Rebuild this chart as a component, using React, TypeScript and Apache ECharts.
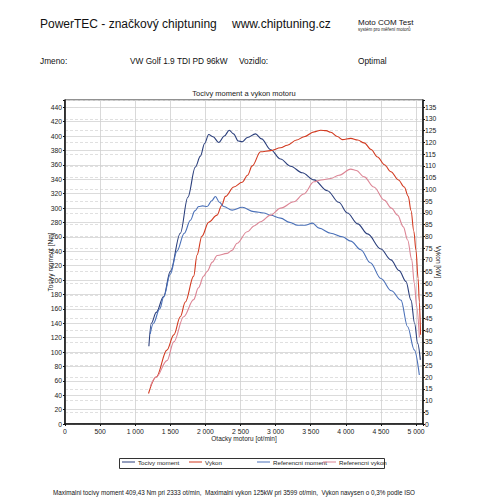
import React, { useEffect, useRef } from "react";
import * as echarts from "echarts";

// rpm vs torque [Nm]
const tunedTorque: [number, number][] = [
  [1195, 108], [1230, 140], [1300, 155], [1405, 177], [1500, 212], [1643, 265], [1750, 315],
  [1857, 357], [1929, 372], [1990, 390], [2047, 402], [2110, 399], [2190, 391], [2270, 400],
  [2340, 408], [2400, 403], [2470, 393], [2524, 392], [2600, 398], [2714, 403], [2800, 396],
  [2929, 381], [3071, 368], [3214, 358], [3380, 349], [3547, 339], [3738, 324], [3900, 308],
  [4024, 293], [4170, 278], [4310, 264], [4500, 243], [4643, 228], [4760, 213], [4857, 198],
  [4929, 172], [4980, 140], [5024, 112], [5062, 89],
];
const refTorque: [number, number][] = [
  [1214, 125], [1260, 140], [1350, 160], [1405, 176], [1500, 208], [1595, 240], [1700, 265],
  [1786, 283], [1850, 296], [1905, 302], [1960, 303], [2024, 302], [2090, 310], [2143, 316],
  [2200, 308], [2262, 302], [2381, 297], [2524, 301], [2690, 295], [2833, 293], [2929, 290],
  [3071, 286], [3200, 280], [3310, 276], [3420, 276], [3524, 279], [3620, 272], [3786, 265],
  [3950, 260], [4071, 254], [4214, 242], [4350, 224], [4500, 202], [4650, 185], [4786, 172],
  [4881, 135], [4976, 103], [5048, 68],
];
// rpm vs power [kW]
const tunedPower: [number, number][] = [
  [1190, 13], [1300, 20], [1452, 31.5], [1550, 38], [1643, 45.7], [1714, 52], [1833, 63],
  [1881, 72], [1950, 80], [2047, 86], [2167, 89], [2230, 93], [2286, 97], [2405, 101],
  [2524, 103], [2600, 106], [2667, 110], [2786, 116], [2929, 116.5], [3071, 117.7],
  [3167, 118.8], [3300, 121], [3405, 122.4], [3550, 124.5], [3643, 125.2], [3720, 125],
  [3786, 124.3], [3880, 122.5], [3952, 121.2], [4071, 121.7], [4170, 121], [4262, 119.8],
  [4360, 117], [4452, 113.8], [4550, 110.5], [4643, 107.5], [4750, 104], [4833, 101],
  [4890, 97], [4929, 91], [4970, 82], [5000, 74], [5030, 62], [5048, 52], [5065, 38],
];
const refPower: [number, number][] = [
  [1214, 16], [1300, 20], [1452, 27], [1550, 35], [1690, 45.7], [1833, 53], [1900, 58],
  [1976, 63], [2024, 65], [2100, 69], [2167, 71.8], [2310, 72.7], [2380, 74], [2452, 77],
  [2595, 81.9], [2700, 84.5], [2786, 86.2], [2929, 89], [3071, 92], [3262, 94.7], [3400, 98],
  [3547, 103.2], [3650, 104], [3786, 104.6], [3900, 106], [4071, 108.6], [4150, 108],
  [4262, 105.3], [4400, 101], [4548, 95.4], [4650, 92], [4738, 89], [4820, 84], [4881, 78.4],
  [4940, 70], [4976, 60], [5010, 50], [5048, 37],
];

const seriesNames = ["Tocivy moment", "Vykon", "Referencni moment", "Referencni vykon"];
const seriesColors = ["#2b3f7c", "#d2391f", "#4a70b8", "#dc8595"];

const FONT = "Liberation Sans, Arial, sans-serif";

export default function App() {
  const ref = useRef<HTMLDivElement>(null);
  useEffect(() => {
    const chart = echarts.init(ref.current!, null, { renderer: "svg" });
    const legendLefts = [122, 189, 257, 323];
    const option: any = {
      animation: false,
      backgroundColor: "#fff",
      textStyle: { fontFamily: FONT },
      title: {
        text: "Tocivy moment a vykon motoru",
        left: 244,
        textAlign: "center",
        top: 89,
        padding: 0,
        textStyle: { fontSize: 7.5, fontWeight: "normal", color: "#222", fontFamily: FONT },
      },
      grid: {
        left: 65, right: 57, top: 100, bottom: 79,
        show: true, borderColor: "#222", borderWidth: 1, backgroundColor: "transparent",
      },
      legend: seriesNames.map((n, i) => ({
        data: [n],
        left: legendLefts[i],
        top: 459,
        padding: 0,
        icon: "rect",
        itemWidth: 13,
        itemHeight: 1,
        itemGap: 0,
        textStyle: { fontSize: 6.2, color: "#222", fontFamily: FONT, padding: [0, 0, 0, -2] },
      })),
      xAxis: {
        type: "value",
        min: 0, max: 5100, interval: 500,
        name: "Otacky motoru [ot/min]",
        nameLocation: "middle",
        nameGap: 11,
        nameMoveOverlap: false,
        nameTextStyle: { fontSize: 6.5, color: "#222" },
        axisLine: { show: true, lineStyle: { color: "#111", width: 1.5 } },
        axisTick: { show: true, length: 2, lineStyle: { color: "#111" } },
        axisLabel: {
          fontSize: 6.8, color: "#222", margin: 4,
          formatter: (v: number) => (v > 5000 ? "" : v >= 1000 ? `${Math.floor(v / 1000)} ${String(v % 1000).padStart(3, "0")}` : String(v)),
        },
        splitLine: { show: true, lineStyle: { color: "#cfcfcf", width: 0.8 } },
      },
      yAxis: [
        {
          type: "value",
          min: 0, max: 450, interval: 20,
          name: "Tocivy moment [Nm]",
          nameLocation: "middle",
          nameGap: 11,
          nameRotate: 90,
          nameMoveOverlap: false,
          nameTextStyle: { fontSize: 6.5, color: "#222" },
          axisLine: { show: true, lineStyle: { color: "#111", width: 1.5 } },
          axisTick: { show: true, length: 2, lineStyle: { color: "#111" } },
          axisLabel: {
            fontSize: 6.8, color: "#222", margin: 3,
            formatter: (v: number) => (v > 440 ? "" : String(v)),
          },
          splitLine: { show: true, lineStyle: { color: "#d2d2d2", width: 0.8 } },
        },
        {
          type: "value",
          min: 0, max: (450 * 135) / 440, interval: 5,
          position: "right",
          name: "Vykon [kW]",
          nameLocation: "middle",
          nameGap: 12,
          nameRotate: -90,
          nameMoveOverlap: false,
          nameTextStyle: { fontSize: 6.5, color: "#222" },
          axisLine: { show: true, lineStyle: { color: "#111", width: 1.5 } },
          axisTick: { show: true, length: 2, lineStyle: { color: "#111" } },
          axisLabel: {
            fontSize: 6.8, color: "#222", margin: 2,
            formatter: (v: number) => (v > 135.5 ? "" : String(Math.round(v))),
          },
          splitLine: { show: true, lineStyle: { color: "#d8d8d8", width: 0.8, type: [3, 2] } },
        },
      ],
      series: [
        { name: seriesNames[0], type: "line", yAxisIndex: 0, data: tunedTorque },
        { name: seriesNames[1], type: "line", yAxisIndex: 1, data: tunedPower },
        { name: seriesNames[2], type: "line", yAxisIndex: 0, data: refTorque },
        { name: seriesNames[3], type: "line", yAxisIndex: 1, data: refPower },
      ].map((s, i) => ({
        ...s,
        showSymbol: false,
        symbol: "none",
        smooth: 0.35,
        smoothMonotone: "x",
        color: seriesColors[i],
        lineStyle: { color: seriesColors[i], width: 1.1 },
        z: 3,
      })),
      graphic: [
        { type: "text", left: 40, top: 18, style: { text: "PowerTEC - značkový chiptuning", font: `12px ${FONT}`, fill: "#111" } },
        { type: "text", left: 232, top: 18, style: { text: "www.chiptuning.cz", font: `12px ${FONT}`, fill: "#111" } },
        { type: "text", left: 358, top: 18, style: { text: "Moto COM Test", font: `8px ${FONT}`, fill: "#111" } },
        { type: "text", left: 358, top: 27, style: { text: "systém pro měření motorů", font: `4.5px ${FONT}`, fill: "#222" } },
        { type: "text", left: 40, top: 57, style: { text: "Jmeno:", font: `8.3px ${FONT}`, fill: "#111" } },
        { type: "text", left: 130, top: 57, style: { text: "VW Golf 1.9 TDI PD 96kW", font: `8.3px ${FONT}`, fill: "#111" } },
        { type: "text", left: 239, top: 57, style: { text: "Vozidlo:", font: `8.3px ${FONT}`, fill: "#111" } },
        { type: "text", left: 358, top: 57, style: { text: "Optimal", font: `8.3px ${FONT}`, fill: "#111" } },
        { type: "rect", shape: { x: 119.5, y: 458.5, width: 265, height: 10 }, style: { fill: "none", stroke: "#333", lineWidth: 1 } },
        {
          type: "text", left: 53, top: 489,
          style: {
            text: "Maximalni tocivy moment 409,43 Nm pri 2333 ot/min,  Maximalni vykon 125kW pri 3599 ot/min,  Vykon navysen o 0,3% podle ISO",
            font: `6.3px ${FONT}`, fill: "#111",
          },
        },
      ],
    };
    chart.setOption(option);
    return () => chart.dispose();
  }, []);
  return (
    <div
      ref={ref}
      style={{ position: "fixed", left: 0, top: 0, width: 480, height: 503, background: "#fff" }}
    />
  );
}
